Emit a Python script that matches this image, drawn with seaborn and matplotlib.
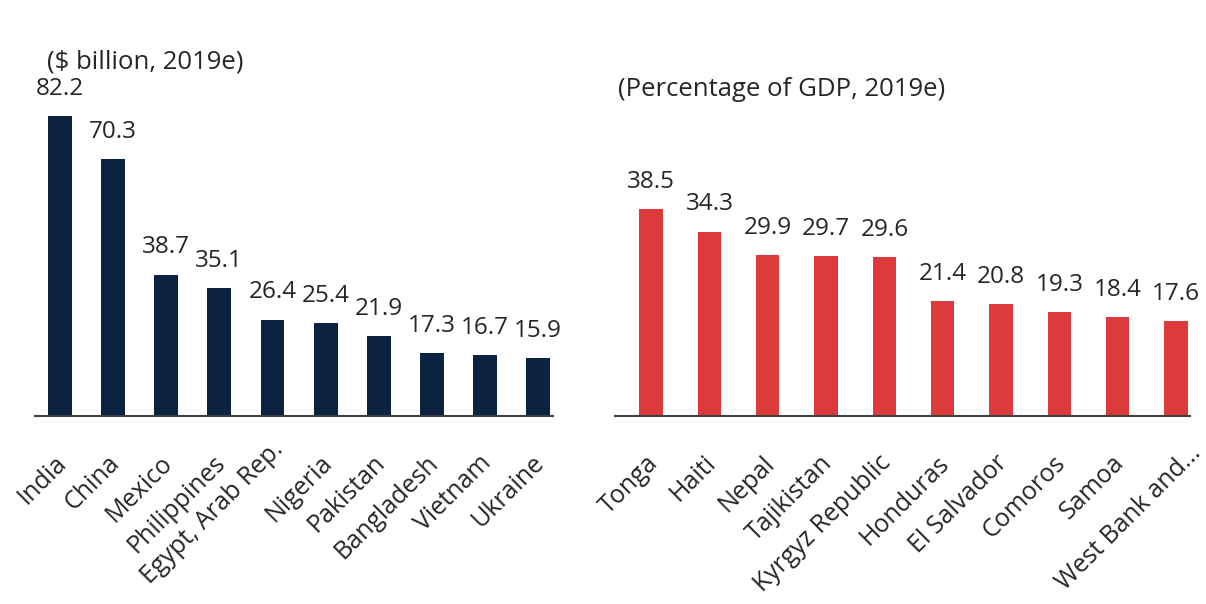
import matplotlib
matplotlib.use("Agg")
import matplotlib.pyplot as plt
import matplotlib.transforms as mtransforms
import seaborn as sns
import pandas as pd

left_countries = ["India", "China", "Mexico", "Philippines", "Egypt, Arab Rep.",
                  "Nigeria", "Pakistan", "Bangladesh", "Vietnam", "Ukraine"]
left_values = [82.2, 70.3, 38.7, 35.1, 26.4, 25.4, 21.9, 17.3, 16.7, 15.9]

right_countries = ["Tonga", "Haiti", "Nepal", "Tajikistan", "Kyrgyz Republic",
                   "Honduras", "El Salvador", "Comoros", "Samoa", "West Bank and..."]
right_values = [38.5, 34.3, 29.9, 29.7, 29.6, 21.4, 20.8, 19.3, 18.4, 17.6]

left_title = "($ billion, 2019e)"
right_title = "(Percentage of GDP, 2019e)"

sns.set_theme(style="white")
plt.rcParams["font.family"] = ["Open Sans", "DejaVu Sans"]

W, H = 1206, 604
DPI = 100
fig = plt.figure(figsize=(W / DPI, H / DPI), dpi=DPI)

def px_axes(x0, x1, ytop, ybot):
    return fig.add_axes([x0 / W, 1 - ybot / H, (x1 - x0) / W, (ybot - ytop) / H])

FS_VAL = 17.5
FS_TICK = 18
FS_TITLE = 18.5
TEXT = "#262626"

# pixel nudges (dx right, dy up) for tick labels; long labels sit a bit higher
base_nudge = (-6, -4)
label_nudge = {"Egypt, Arab Rep.": (4, 14), "West Bank and...": (18, 10)}

def draw(ax, cats, vals, color, width, xlim, ylim):
    df = pd.DataFrame({"c": cats, "v": vals})
    sns.barplot(data=df, x="c", y="v", color=color, width=width, ax=ax,
                saturation=1, edgecolor="none")
    ax.set_xlim(*xlim)
    ax.set_ylim(*ylim)
    for i, v in enumerate(vals):
        ax.annotate(f"{v:.1f}", (i, v), xytext=(0, 11), textcoords="offset points",
                    ha="center", va="bottom", fontsize=FS_VAL, color=TEXT)
    ax.set_xlabel("")
    ax.set_ylabel("")
    ax.set_yticks([])
    for s in ["top", "left", "right"]:
        ax.spines[s].set_visible(False)
    ax.spines["bottom"].set_color("#404040")
    ax.spines["bottom"].set_linewidth(1.5)
    ax.tick_params(axis="x", length=0, pad=22)
    ax.set_xticks(range(len(cats)))
    ax.set_xticklabels(cats, rotation=45, ha="right", rotation_mode="anchor",
                       fontsize=FS_TICK, color=TEXT)
    for lab in ax.get_xticklabels():
        dx, dy = base_nudge
        ex, ey = label_nudge.get(lab.get_text(), (0, 0))
        lab.set_transform(lab.get_transform() +
                          mtransforms.ScaledTranslation((dx + ex) / DPI, (dy + ey) / DPI,
                                                        fig.dpi_scale_trans))

ax1 = px_axes(35, 553, 60, 416)
draw(ax1, left_countries, left_values, "#0b2240", 0.45, (-0.47, 9.28), (0, 97.5))
ax2 = px_axes(615, 1190, 60, 416)
draw(ax2, right_countries, right_values, "#dc3a3b", 0.4, (-0.62, 9.24), (0, 66.2))

fig.text(47 / W, 1 - 62 / H, left_title, ha="left", va="center", fontsize=FS_TITLE, color=TEXT)
fig.text(618 / W, 1 - 90 / H, right_title, ha="left", va="center", fontsize=FS_TITLE, color=TEXT)

fig.savefig("out.png", dpi=DPI, facecolor="white")
